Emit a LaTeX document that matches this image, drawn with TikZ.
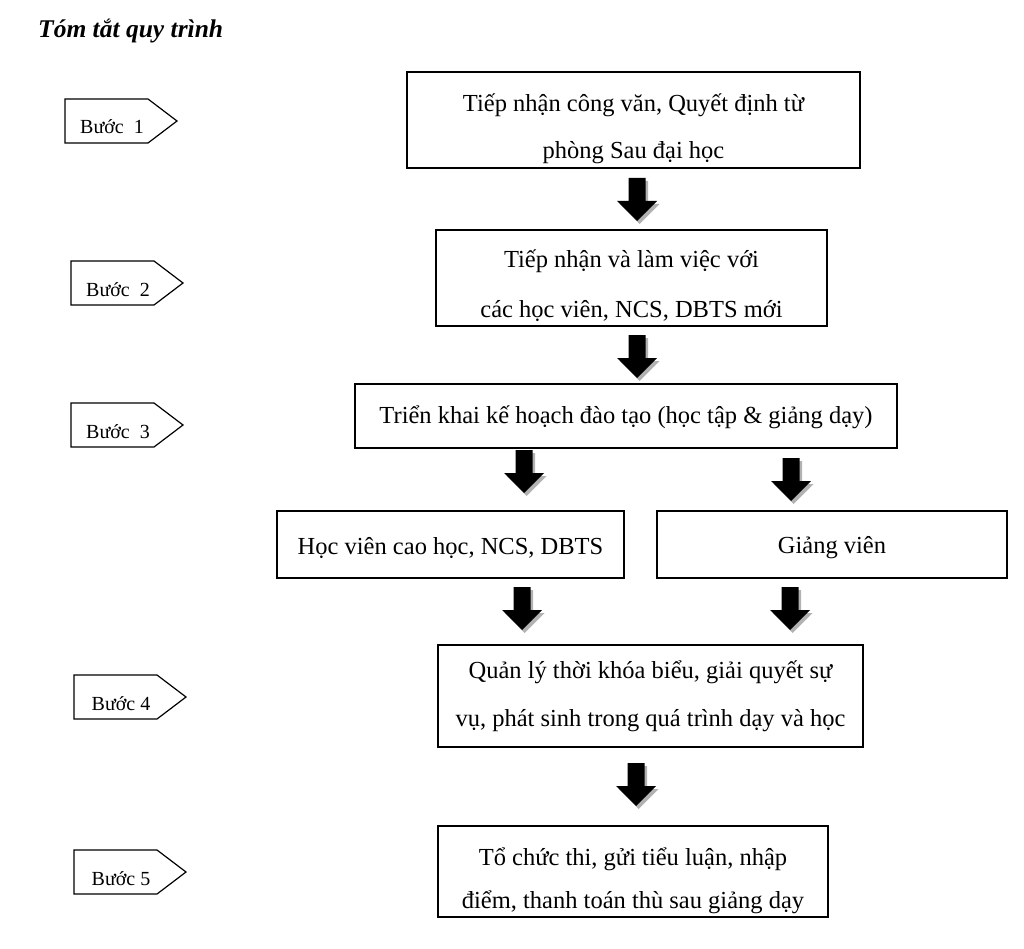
\documentclass[tikz,border=0pt]{standalone}
\usepackage{fontspec}
\setmainfont{Liberation Serif}
\usepackage{tikz}

\tikzset{
  hop/.style={draw, line width=1.4pt, inner sep=0pt},
  hopchu/.style={align=center, inner sep=0pt, font=\fontsize{24.5}{47}\selectfont},
  nhan/.style={line width=1.2pt, fill=white},
  chu/.style={anchor=base, font=\fontsize{20}{20}\selectfont},
  muiten/.style={fill=black},
  bong/.style={fill=black!30},
}

\begin{document}
\begin{tikzpicture}[x=1pt,y=-1pt]
\useasboundingbox (0,0) rectangle (1024,949);
%1. tiêu đề
\node[anchor=base west, inner sep=0pt, font=\fontsize{25.5}{25.5}\selectfont\bfseries\itshape] (tieude) at (38,38) {Tóm tắt quy trình};
%2. các hộp chính
\node[hop, minimum width=453, minimum height=96] (tiepnhan) at (633.5,120) {};
\node[hopchu] (tiepnhanchu) at (633.5,128.5) {Tiếp nhận công văn, Quyết định từ\\phòng Sau đại học};
\node[hop, minimum width=391, minimum height=96] (lamviec) at (631.5,278) {};
\node[hopchu, font=\fontsize{24.5}{50}\selectfont] (lamviecchu) at (631.5,285.5) {Tiếp nhận và làm việc với\\các học viên, NCS, DBTS mới};
\node[hop, minimum width=542, minimum height=64] (trienkhai) at (626,416) {};
\node[hopchu] (trienkhaichu) at (626,417) {Triển khai kế hoạch đào tạo (học tập \& giảng dạy)};
\node[hop, minimum width=347, minimum height=67] (hocvien) at (450.5,544.5) {};
\node[hopchu] (hocvienchu) at (450.5,547.5) {Học viên cao học, NCS, DBTS};
\node[hop, minimum width=350, minimum height=67] (giangvien) at (832,544.5) {};
\node[hopchu] (giangvienchu) at (832,547.5) {Giảng viên};
\node[hop, minimum width=425, minimum height=102] (quanly) at (650.5,696) {};
\node[hopchu, font=\fontsize{24.5}{48}\selectfont] (quanlychu) at (650.5,696.5) {Quản lý thời khóa biểu, giải quyết sự\\vụ, phát sinh trong quá trình dạy và học};
\node[hop, minimum width=390, minimum height=91] (tochuc) at (633,871.5) {};
\node[hopchu, font=\fontsize{24.5}{43}\selectfont] (tochucchu) at (633,881) {Tổ chức thi, gửi tiểu luận, nhập\\điểm, thanh toán thù sau giảng dạy};
%3. mũi tên khối
\foreach \x/\y in {637/178, 637/335, 524/450, 791/458, 522/587, 790/587, 636/763}
{
	\fill[bong] (\x-6,\y+3) -- ++(17,0) -- ++(0,23) -- ++(11.5,0) -- ++(-20,20) -- ++(-20,-20) -- ++(11.5,0) -- cycle;
	\fill[muiten] (\x-8.5,\y) -- ++(17,0) -- ++(0,23) -- ++(11.5,0) -- ++(-20,20) -- ++(-20,-20) -- ++(11.5,0) -- cycle;
}
%4. các bước
\foreach \n/\l/\t/\ten in {1/65/99/Bước~~1, 2/71/261/Bước~~2, 3/71/403/Bước~~3, 4/74/675/Bước~4, 5/74/850/Bước~5}
{
	\draw[nhan] (\l,\t) -- ++(83,0) -- ++(29,22) -- ++(-29,22) -- ++(-83,0) -- cycle;
	\node[chu] (buoc\n) at (\l+47,\t+35) {\ten};
}
\end{tikzpicture}
\end{document}
